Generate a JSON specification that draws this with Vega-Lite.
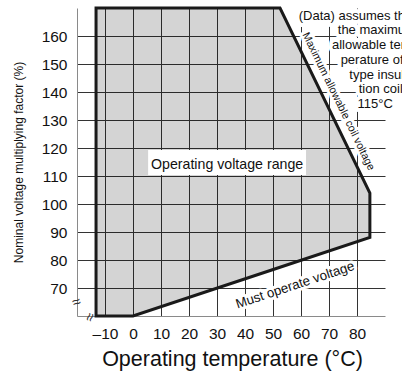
{
  "$schema": "https://vega.github.io/schema/vega-lite/v6.json",
  "width": 308,
  "height": 308,
  "autosize": {"type": "none"},
  "padding": {"left": 77, "top": 8, "right": 17, "bottom": 61},
  "background": "white",
  "config": {
    "view": {"stroke": null},
    "font": "Liberation Sans",
    "axis": {
      "grid": true,
      "gridColor": "#333333",
      "gridWidth": 1,
      "ticks": false,
      "tickSize": 0,
      "tickCount": 30,
      "labelOverlap": false,
      "domainColor": "#8a8a8a",
      "domainWidth": 1,
      "labelColor": "#111111",
      "labelFont": "Liberation Sans",
      "labelFontSize": 15.5,
      "titleColor": "#111111",
      "titleFont": "Liberation Sans",
      "titleFontWeight": "normal"
    }
  },
  "layer": [
    {
      "data": {"values": [
        {"x": -13.2, "y": 170, "y2": 60},
        {"x": 0, "y": 170, "y2": 60},
        {"x": 52.5, "y": 170, "y2": 77.4},
        {"x": 84.6, "y": 103.9, "y2": 88.1}
      ]},
      "mark": {"type": "area", "fill": "black", "fillOpacity": 0.17, "strokeWidth": 0},
      "encoding": {
        "x": {"field": "x", "type": "quantitative", "scale": {"domain": [-20, 90], "nice": false, "zero": false},
          "axis": {"values": [-10, 0, 10, 20, 30, 40, 50, 60, 70, 80], "tickCount": 30, "labelOverlap": false,
            "labelExpr": "datum.value < 0 ? '\u2013' + abs(datum.value) : datum.label",
            "labelPadding": 22, "labelBaseline": "alphabetic",
            "title": "Operating temperature (\u00b0C)", "titleFontSize": 21.5,
            "titleX": 155, "titleY": 49.5, "titleBaseline": "alphabetic", "titleAlign": "center"}},
        "y": {"field": "y", "type": "quantitative", "scale": {"domain": [60, 170], "nice": false, "zero": false},
          "axis": {"values": [70, 80, 90, 100, 110, 120, 130, 140, 150, 160], "tickCount": 30, "labelOverlap": false,
            "labelPadding": 10,
            "title": "Nominal voltage multiplying factor (%)", "titleFontSize": 12,
            "titleAngle": 270, "titleX": -54.5, "titleY": 154, "titleBaseline": "alphabetic", "titleAlign": "center"}},
        "y2": {"field": "y2"}
      }
    },
    {
      "data": {"values": [{"x": 5.4, "x2": 61.8, "y": 110.4, "y2": 119.3}]},
      "mark": {"type": "rect", "fill": "white"},
      "encoding": {
        "x": {"field": "x", "type": "quantitative"},
        "x2": {"field": "x2"},
        "y": {"field": "y", "type": "quantitative"},
        "y2": {"field": "y2"}
      }
    },
    {
      "data": {"values": [{"label": "Operating voltage range", "x": 33.6, "y": 113.9}]},
      "mark": {"type": "text", "fontSize": 14.2, "color": "#111111", "align": "center", "baseline": "middle"},
      "encoding": {
        "x": {"field": "x", "type": "quantitative"},
        "y": {"field": "y", "type": "quantitative"},
        "text": {"field": "label"}
      }
    },
    {
      "data": {"values": [{"label": "Maximum allowable coil voltage", "x": 73.3, "y": 136.6}]},
      "layer": [
        {"mark": {"type": "text", "fontSize": 10.8, "angle": 64, "align": "center", "baseline": "middle", "fill": "white", "stroke": "white", "strokeWidth": 6, "strokeJoin": "round"}},
        {"mark": {"type": "text", "fontSize": 10.8, "angle": 64, "align": "center", "baseline": "middle", "fill": "#111111"}}
      ],
      "encoding": {
        "x": {"field": "x", "type": "quantitative"},
        "y": {"field": "y", "type": "quantitative"},
        "text": {"field": "label"}
      }
    },
    {
      "data": {"values": [{"label": "Must operate voltage", "x": 57.9, "y": 71.0}]},
      "layer": [
        {"mark": {"type": "text", "fontSize": 13.3, "angle": 341.7, "align": "center", "baseline": "middle", "fill": "white", "stroke": "white", "strokeWidth": 6, "strokeJoin": "round"}},
        {"mark": {"type": "text", "fontSize": 13.3, "angle": 341.7, "align": "center", "baseline": "middle", "fill": "#111111"}}
      ],
      "encoding": {
        "x": {"field": "x", "type": "quantitative"},
        "y": {"field": "y", "type": "quantitative"},
        "text": {"field": "label"}
      }
    },
    {
      "data": {"values": [
        {"label": "(Data) assumes that", "x": 101, "y": 167.25},
        {"label": "the maximum", "x": 101, "y": 162.0},
        {"label": "allowable tem-", "x": 101, "y": 156.75},
        {"label": "perature of E", "x": 101, "y": 151.5},
        {"label": "type insula-", "x": 101, "y": 146.25},
        {"label": "tion coil is", "x": 101, "y": 141.0}
      ]},
      "layer": [
        {"mark": {"type": "text", "fontSize": 13, "align": "right", "baseline": "middle", "fill": "white", "stroke": "white", "strokeWidth": 8, "strokeJoin": "round"}},
        {"mark": {"type": "text", "fontSize": 13, "align": "right", "baseline": "middle", "fill": "#111111"}}
      ],
      "encoding": {
        "x": {"field": "x", "type": "quantitative"},
        "y": {"field": "y", "type": "quantitative"},
        "text": {"field": "label"}
      }
    },
    {
      "data": {"values": [{"label": "115\u00b0C", "x": 80.2, "y": 135.75}]},
      "layer": [
        {"mark": {"type": "text", "fontSize": 13, "align": "left", "baseline": "middle", "fill": "white", "stroke": "white", "strokeWidth": 8, "strokeJoin": "round"}},
        {"mark": {"type": "text", "fontSize": 13, "align": "left", "baseline": "middle", "fill": "#111111"}}
      ],
      "encoding": {
        "x": {"field": "x", "type": "quantitative"},
        "y": {"field": "y", "type": "quantitative"},
        "text": {"field": "label"}
      }
    },
    {
      "data": {"values": [{"label": "\u2248", "x": -20.2, "y": 65}]},
      "mark": {"type": "text", "fontSize": 15, "angle": 340, "align": "center", "baseline": "middle", "fill": "#333333"},
      "encoding": {
        "x": {"field": "x", "type": "quantitative"},
        "y": {"field": "y", "type": "quantitative"},
        "text": {"field": "label"}
      }
    },
    {
      "data": {"values": [{"label": "\u2248", "x": -15.4, "y": 59.6}]},
      "mark": {"type": "text", "fontSize": 15, "angle": 290, "align": "center", "baseline": "middle", "fill": "#333333"},
      "encoding": {
        "x": {"field": "x", "type": "quantitative"},
        "y": {"field": "y", "type": "quantitative"},
        "text": {"field": "label"}
      }
    },
    {
      "mark": {"type": "rule", "stroke": "#1a1a1a", "strokeWidth": 2.5},
      "encoding": {"y": {"datum": 100, "type": "quantitative"}}
    },
    {
      "data": {"values": [
        {"x": -13.2, "y": 170, "y2": 60},
        {"x": 0, "y": 170, "y2": 60},
        {"x": 52.5, "y": 170, "y2": 77.4},
        {"x": 84.6, "y": 103.9, "y2": 88.1}
      ]},
      "mark": {"type": "area", "fill": null, "fillOpacity": 0, "stroke": "#1a1a1a", "strokeWidth": 3, "strokeJoin": "miter"},
      "encoding": {
        "x": {"field": "x", "type": "quantitative"},
        "y": {"field": "y", "type": "quantitative"},
        "y2": {"field": "y2"}
      }
    }
  ]
}
